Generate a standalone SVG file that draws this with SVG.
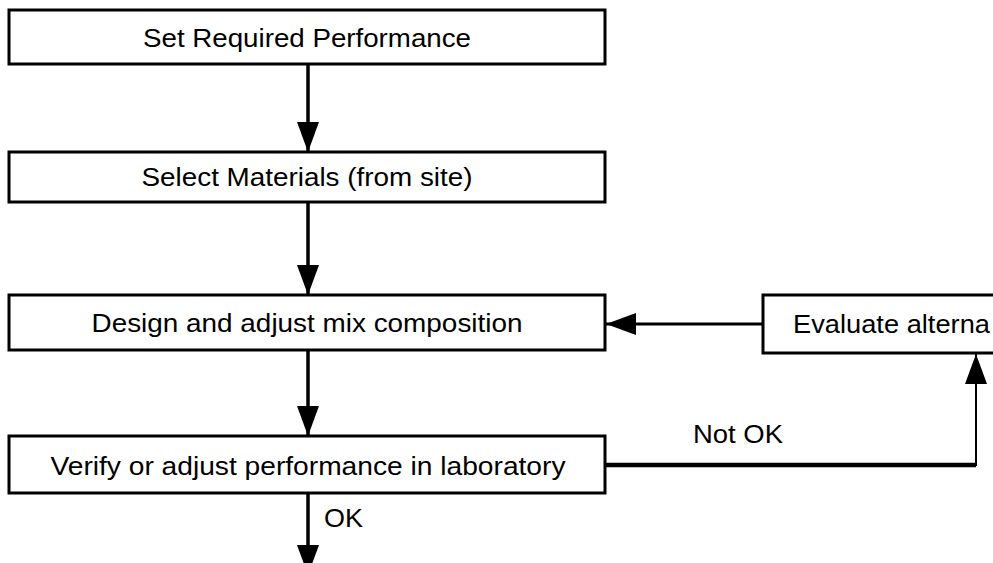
<svg xmlns="http://www.w3.org/2000/svg" width="993" height="563" viewBox="0 0 993 563">
<style>
.box{fill:#fff;stroke:#000;stroke-width:3}
.t{font-family:"Liberation Sans",Arial,sans-serif;font-size:25px;fill:#000}
.c{text-anchor:middle}
.ln{stroke:#000;stroke-width:3.5;fill:none}
</style>
<defs>
<marker id="ah" viewBox="0 0 30 22" refX="30" refY="11" markerWidth="30" markerHeight="22" markerUnits="userSpaceOnUse" orient="auto">
<path d="M0,0 L30,11 L0,22 Z" fill="#000"/>
</marker>
</defs>
<rect width="993" height="563" fill="#fff"/>
<g id="connectors">
<line class="ln" x1="308" y1="64" x2="308" y2="152" marker-end="url(#ah)"/>
<line class="ln" x1="308" y1="202" x2="308" y2="295" marker-end="url(#ah)"/>
<line class="ln" x1="308" y1="350" x2="308" y2="436" marker-end="url(#ah)"/>
<line class="ln" x1="308" y1="493" x2="308" y2="575" marker-end="url(#ah)"/>
<line class="ln" x1="763" y1="324" x2="606" y2="324" marker-end="url(#ah)" style="stroke-width:3"/>
<polyline class="ln" points="605,465 976,465 976,354" marker-end="url(#ah)" style="stroke-width:2"/>
<line x1="605" y1="465" x2="976" y2="465" stroke="#000" stroke-width="4.5"/>
<text class="t" x="324" y="527" textLength="39" lengthAdjust="spacingAndGlyphs">OK</text>
<text class="t" x="693" y="443" textLength="90" lengthAdjust="spacingAndGlyphs">Not OK</text>
</g>
<g id="n1"><rect class="box" x="9" y="10" width="596" height="54"/><text class="t c" x="307" y="46.5" textLength="328" lengthAdjust="spacingAndGlyphs">Set Required Performance</text></g>
<g id="n2"><rect class="box" x="9" y="152" width="596" height="50"/><text class="t c" x="307" y="185.5" textLength="331" lengthAdjust="spacingAndGlyphs">Select Materials (from site)</text></g>
<g id="n3"><rect class="box" x="9" y="295" width="596" height="55"/><text class="t c" x="307" y="331.5" textLength="431" lengthAdjust="spacingAndGlyphs">Design and adjust mix composition</text></g>
<g id="n4"><rect class="box" x="9" y="436" width="596" height="57"/><text class="t c" x="308" y="475" textLength="515" lengthAdjust="spacingAndGlyphs">Verify or adjust performance in laboratory</text></g>
<g id="n5"><rect class="box" x="763" y="295" width="240" height="58"/><text class="t" x="793" y="333" textLength="197" lengthAdjust="spacingAndGlyphs">Evaluate alterna</text></g>
</svg>
